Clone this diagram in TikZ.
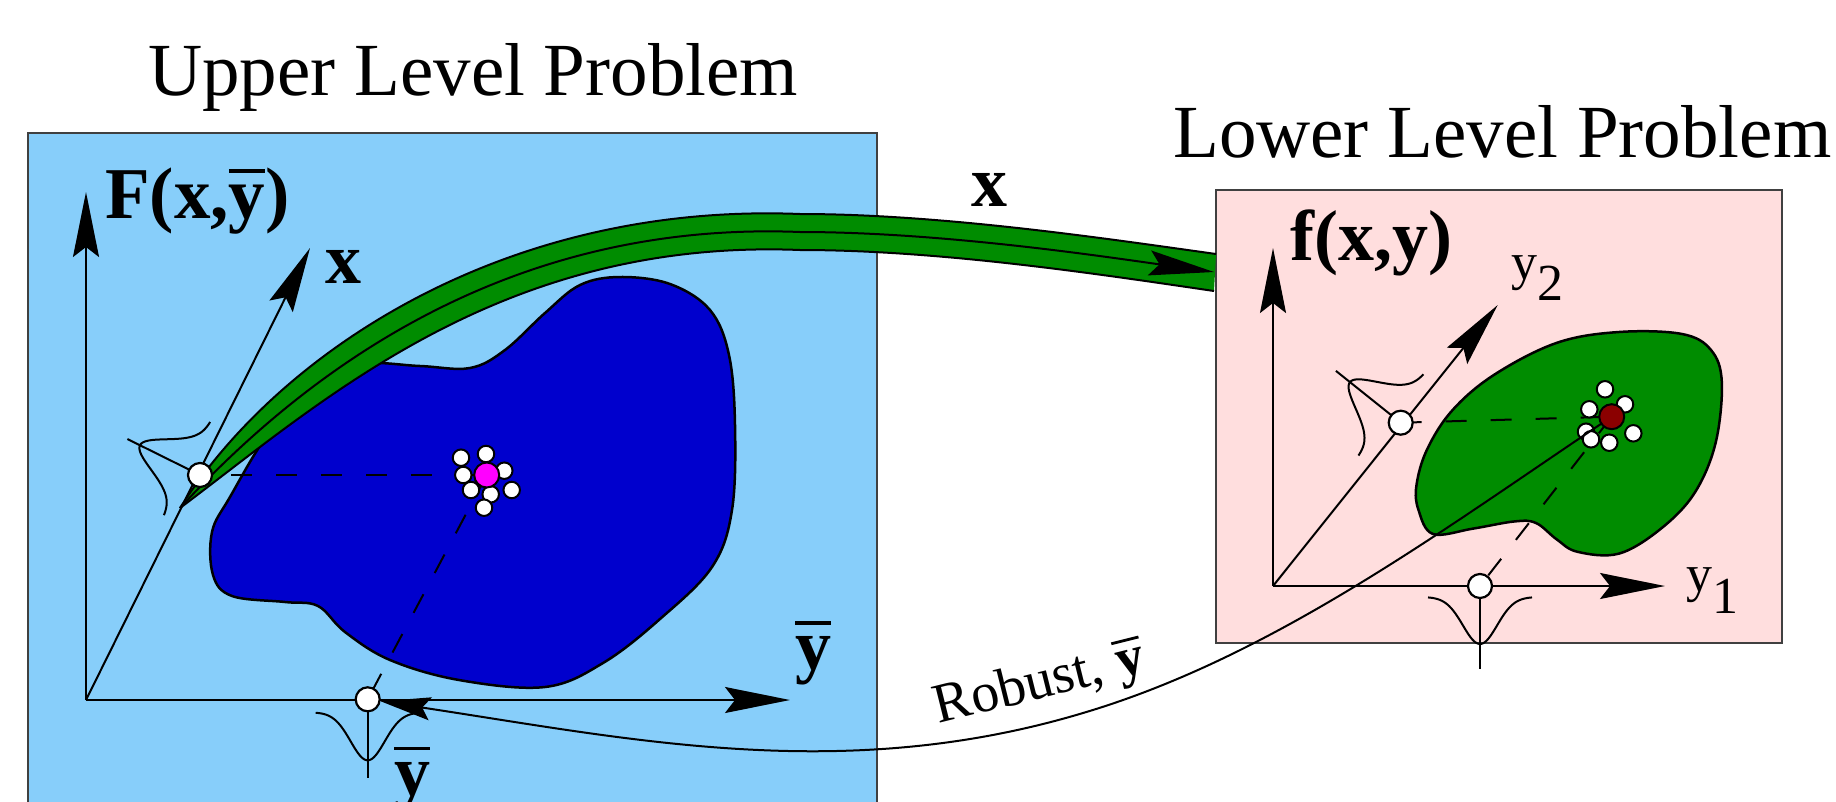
\documentclass[tikz,border=0pt]{standalone}
\usepackage{fontspec}
\setmainfont{Liberation Serif}
\usetikzlibrary{arrows.meta}
\definecolor{upbg}{RGB}{135,206,250}
\definecolor{lowbg}{RGB}{255,222,222}
\definecolor{blobblue}{RGB}{0,0,205}
\definecolor{bandgreen}{RGB}{0,140,0}
\definecolor{dotred}{RGB}{139,0,0}
\definecolor{dotmag}{RGB}{255,0,255}
\newcommand{\fsz}[1]{\fontsize{#1}{#1}\selectfont}
\newcommand{\ovl}[1]{\setbox0\hbox{#1}\rlap{\rule[0.62em]{\wd0}{0.05em}}\box0}
\newcommand{\bell}[6]{%
  \begin{scope}[shift={#1},x={#2},y={#3}]
    \draw[line width=2pt] (0,0) -- (0,#6);
    \draw[line width=2pt,domain=-52:52,samples=60,smooth] plot (\x,{#4+(#5-#4)*exp(-(\x*\x)/578)});
  \end{scope}}
\begin{document}
\begin{tikzpicture}[x=1pt,y=-1pt,
  ax/.style={line width=2pt,-{Stealth[length=65pt,width=26pt,inset=10pt]}},
  lbl/.style={inner sep=0pt,anchor=base west},
  dsh/.style={line width=2pt,dash pattern=on 21pt off 24pt},
  wc/.style={circle,draw=black,fill=white,line width=2.2pt,minimum size=24pt,inner sep=0pt},
  sc/.style={circle,draw=black,fill=white,line width=2pt,minimum size=16.5pt,inner sep=0pt},
  dot/.style={circle,draw=black,line width=2pt,minimum size=25pt,inner sep=0pt},
  boxline/.style={draw=black!75,line width=2.5pt},
  blob/.style={draw=black,line width=2.5pt},
  thin/.style={line width=2pt}]
\useasboundingbox (0,0) rectangle (1836,801);
% titles
\node[lbl] (uptitle) at (148,95) {\fsz{75}Upper Level Problem};
\node[lbl] (lowtitle) at (1173,157) {\fsz{75}Lower Level Problem};
% boxes
\draw[boxline,fill=upbg] (28,133) rectangle (877,812);
\draw[boxline,fill=lowbg] (1216,190) rectangle (1782,643);
% blobs
\draw[blob,fill=blobblue] plot[smooth cycle,tension=0.6] coordinates {
 (269,433) (316,385) (360,364) (420,366) (470,368) (505,350) (545,313) (580,285)
 (620,277) (670,284) (710,310) (729,355) (735,425) (732,510) (712,567) (660,619)
 (603,663) (545,687) (459,680) (390,660) (345,632) (318,606) (285,602) (232,596)
 (213,575) (212,532) (230,497)};
\draw[blob,fill=bandgreen] plot[smooth cycle,tension=0.6] coordinates {
 (1433,534) (1473,528.6) (1514.7,521.4) (1536,523) (1556.6,539.3) (1577.5,551.8)
 (1619,553.6) (1661,528.6) (1694.6,492.9) (1715.6,442.9) (1721.8,382) (1711,350)
 (1682,334) (1619,332) (1556.6,342.9) (1493.8,375) (1452,410.7) (1426.8,450)
 (1416.4,485.7) (1418.5,510)};
% axes
\coordinate (uo) at (86,700); \coordinate (uv) at (86,192);
\coordinate (uh) at (790,700); \coordinate (ud) at (310,248);
\draw[ax] (uo) -- (uv); \draw[ax] (uo) -- (uh); \draw[ax] (uo) -- (ud);
\coordinate (lo) at (1273,586); \coordinate (lv) at (1273,248);
\coordinate (lh) at (1665,586); \coordinate (ld) at (1497.7,305);
\draw[ax] (lo) -- (lv); \draw[ax] (lo) -- (lh); \draw[ax] (lo) -- (ld);
% distributions
\bell{(200,475)}{(0.444pt,0.896pt)}{(-0.896pt,0.444pt)}{14}{67}{81}
\bell{(367.7,699.3)}{(1pt,0pt)}{(0pt,-1pt)}{13}{61}{79}
\bell{(1400.7,422.7)}{(0.6245pt,0.781pt)}{(-0.781pt,0.6245pt)}{12}{65}{83}
\bell{(1480,586)}{(1pt,0pt)}{(0pt,-1pt)}{11}{58}{83}
% points
\coordinate (c1) at (200,475); \coordinate (c2) at (367.7,699.3);
\coordinate (c3) at (1400.7,422.7); \coordinate (c4) at (1480,586);
\coordinate (md) at (486.7,475); \coordinate (rd) at (1611.7,416.7);
% dashed projections
\draw[dsh,dash phase=14pt] (c1) -- (md);
\draw[dsh] (md) -- (c2);
\draw[dsh] (c3) -- (rd);
\draw[dsh] (rd) -- (c4);
% green band
\fill[bandgreen] (180,508) .. controls (276,356) and (500,202) .. (800,214)
  .. controls (940,214) and (1102,238) .. (1216,254) -- (1214,291)
  .. controls (1098,274) and (940,250) .. (800,250)
  .. controls (500,238) and (322,402) .. cycle;
\draw[thin] (180,508) .. controls (276,356) and (500,202) .. (800,214)
  .. controls (940,214) and (1102,238) .. (1216,254);
\draw[thin] (180,508) .. controls (322,402) and (500,238) .. (800,250)
  .. controls (940,250) and (1098,274) .. (1214,291);
\draw[thin,-{Stealth[length=65pt,width=25pt,inset=10pt]}] (180,508) .. controls (299,379) and (500,220) .. (800,232)
  .. controls (940,232) and (1100,256) .. (1214,272);
% white circles
\node[wc] (uc1) at (c1) {};
\node[wc] (uc2) at (c2) {};
\node[wc] (lc1) at (c3) {};
\node[wc] (lc2) at (c4) {};
\foreach \p [count=\i] in {(461,457.7),(486,454),(504.3,470.7),(463.3,475),(471,490),(490.7,494.3),(511.7,490),(484,507.7)}
  \node[sc] (us\i) at \p {};
\foreach \p [count=\i] in {(1605,389.3),(1625,404.3),(1589.3,409.3),(1586,431.7),(1591,439.3),(1609.3,442.7),(1633.3,433.3)}
  \node[sc] (ls\i) at \p {};
% robust feedback
\draw[thin,-{Stealth[length=50pt,width=23pt,inset=8pt]}] (rd) .. controls (1445,528) and (1275,656) .. (1083,713)
  .. controls (843,785) and (630,739) .. (uc2);
\node[rotate=14,anchor=base,inner sep=0pt] (rob) at (1043,698) {\fsz{56}Robust, \bfseries\ovl{y}};
% optima
\node[dot,fill=dotmag] (mdot) at (md) {};
\node[dot,fill=dotred] (rdot) at (rd) {};
% labels
\node[lbl] (Flab) at (105,218) {\fsz{73}\bfseries F(x,\ovl{y})};
\node[lbl] (xlab) at (325,283) {\fsz{72}\bfseries x};
\node[lbl] (ybr) at (795,669.5) {\fsz{72}\bfseries\ovl{y}};
\node[lbl] (ybb) at (394,795) {\fsz{72}\bfseries\ovl{y}};
\node[lbl] (bandx) at (971,206.7) {\fsz{72}\bfseries x};
\node[lbl] (flab) at (1290,260) {\fsz{72}\bfseries f(x,y)};
\node[lbl] (y2lab) at (1511.7,279) {\fsz{52}y\raisebox{-21pt}{2}};
\node[lbl] (y1lab) at (1686,591) {\fsz{52}y\raisebox{-22pt}{1}};
\end{tikzpicture}
\end{document}
